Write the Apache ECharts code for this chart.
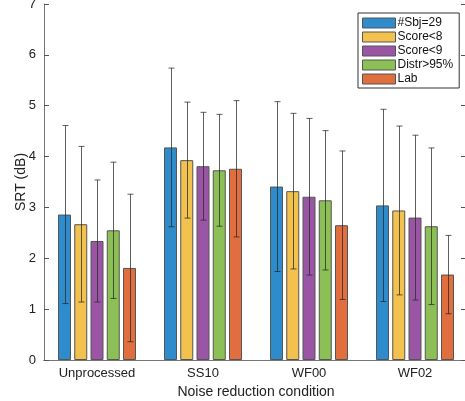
<!DOCTYPE html>
<html>
<head>
<meta charset="utf-8">
<script src="https://cdn.jsdelivr.net/npm/echarts@6/dist/echarts.min.js"></script>
<style>
html, body { margin: 0; padding: 0; background: #fff; }
#chart { width: 465px; height: 401px; }
</style>
</head>
<body>
<div id="chart"></div>
<script>
var conditions = ['Unprocessed', 'SS10', 'WF00', 'WF02'];
var groupNames = ['#Sbj=29', 'Score<8', 'Score<9', 'Distr>95%', 'Lab'];
var colors = ['#2e8bcc', '#f2c14e', '#9a56a4', '#8dbf57', '#e06e3e'];

// mean SRT per group, one value per condition
var sbj29 = [2.86, 4.18, 3.41, 3.04];
var score8 = [2.67, 3.93, 3.32, 2.94];
var score9 = [2.34, 3.81, 3.21, 2.80];
var distr95 = [2.55, 3.73, 3.14, 2.63];
var lab = [1.81, 3.76, 2.65, 1.68];

// error bar half lengths
var sbj29Err = [1.75, 1.56, 1.67, 1.89];
var score8Err = [1.53, 1.14, 1.53, 1.66];
var score9Err = [1.20, 1.06, 1.54, 1.62];
var distr95Err = [1.34, 1.10, 1.37, 1.54];
var labErr = [1.45, 1.34, 1.46, 0.77];

var yTicks = [0, 1, 2, 3, 4, 5, 6, 7];

var means = [sbj29, score8, score9, distr95, lab];
var errs = [sbj29Err, score8Err, score9Err, distr95Err, labErr];

var barW = 13;
var pitch = 16.25;

var chart = echarts.init(document.getElementById('chart'));
var series = [];

means.forEach(function (m, k) {
  series.push({
    name: groupNames[k],
    type: 'bar',
    data: m,
    barWidth: barW,
    barGap: '25%',
    itemStyle: { color: colors[k], borderColor: '#555', borderWidth: 1 },
    z: 2
  });
});

means.forEach(function (m, k) {
  var off = (k - 2) * pitch;
  series.push({
    type: 'custom',
    data: m.map(function (v, i) { return [i, v - errs[k][i], v + errs[k][i]]; }),
    encode: { x: 0, y: [1, 2] },
    z: 5,
    silent: true,
    renderItem: function (params, api) {
      var lo = api.coord([api.value(0), api.value(1)]);
      var hi = api.coord([api.value(0), api.value(2)]);
      var x = Math.round(lo[0] + off) + 0.5;
      var cap = 3;
      var st = { stroke: 'rgba(40,40,40,0.75)', lineWidth: 1 };
      return {
        type: 'group',
        children: [
          { type: 'line', shape: { x1: x, y1: hi[1], x2: x, y2: lo[1] }, style: st },
          { type: 'line', shape: { x1: x - cap, y1: hi[1], x2: x + cap, y2: hi[1] }, style: st },
          { type: 'line', shape: { x1: x - cap, y1: lo[1], x2: x + cap, y2: lo[1] }, style: st }
        ]
      };
    }
  });
});

var font = 'Liberation Sans';

chart.setOption({
  animation: false,
  textStyle: { fontFamily: font },
  grid: { left: 44, top: 4, width: 424, height: 356, outerBoundsMode: 'none', containLabel: false },
  legend: {
    orient: 'vertical',
    left: 358,
    top: 13,
    data: groupNames,
    itemWidth: 33,
    itemHeight: 10,
    itemGap: 2,
    padding: [4, 6, 3, 4],
    borderColor: '#333',
    borderWidth: 1,
    borderRadius: 0,
    backgroundColor: '#fff',
    icon: 'rect',
    itemStyle: { borderColor: '#555', borderWidth: 1 },
    textStyle: { fontSize: 12, lineHeight: 12, color: '#111', fontFamily: font, padding: [0, 0, 0, -3] }
  },
  xAxis: [{
    type: 'category',
    data: conditions,
    name: 'Noise reduction condition',
    nameLocation: 'middle',
    nameGap: 25,
    nameTextStyle: { fontSize: 14, color: '#222' },
    axisLine: { lineStyle: { color: '#777', width: 1 } },
    axisTick: { inside: true, length: 5, alignWithLabel: true, lineStyle: { color: '#555' } },
    axisLabel: { fontSize: 13, color: '#222', margin: 7 }
  }, {
    type: 'category',
    data: conditions,
    position: 'top',
    axisLine: { show: true, lineStyle: { color: '#777', width: 1 } },
    axisTick: { inside: true, length: 5, alignWithLabel: true, lineStyle: { color: '#555' } },
    axisLabel: { show: false }
  }],
  yAxis: [{
    type: 'value',
    min: yTicks[0],
    max: yTicks[yTicks.length - 1],
    interval: 1,
    name: 'SRT (dB)',
    nameLocation: 'middle',
    nameGap: 16,
    nameMoveOverlap: false,
    nameTextStyle: { fontSize: 14, color: '#222' },
    axisLine: { show: true, lineStyle: { color: '#777', width: 1 } },
    axisTick: { show: true, inside: true, length: 5, lineStyle: { color: '#555' } },
    axisLabel: { fontSize: 13, color: '#222', margin: 8 },
    splitLine: { show: false }
  }, {
    type: 'value',
    min: yTicks[0],
    max: yTicks[yTicks.length - 1],
    interval: 1,
    position: 'right',
    axisLine: { show: false },
    axisTick: { show: true, inside: true, length: 7, lineStyle: { color: '#555' } },
    axisLabel: { show: false },
    splitLine: { show: false }
  }],
  series: series
});
</script>
</body>
</html>
